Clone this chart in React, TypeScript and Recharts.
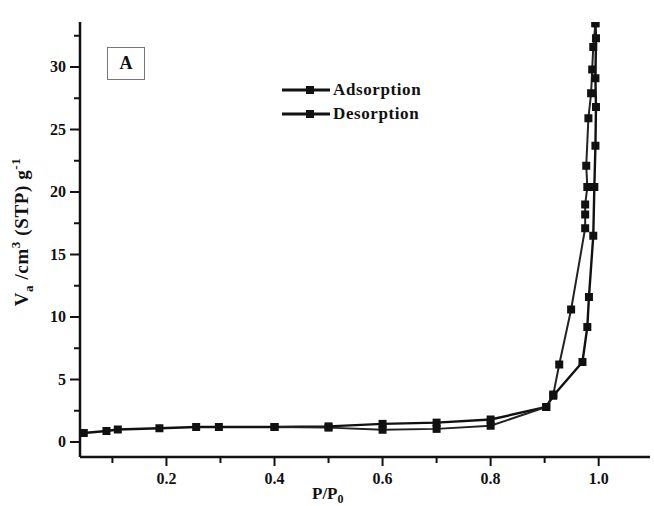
import React from "react";
import { LineChart, Line, XAxis, YAxis } from "recharts";

const adsX = [0.047, 0.089, 0.11, 0.187, 0.255, 0.297, 0.4, 0.5, 0.6, 0.7, 0.8, 0.903, 0.916, 0.97, 0.979, 0.982, 0.99, 0.992, 0.994, 0.995, 0.994, 0.995, 0.994];
const adsY = [0.72, 0.88, 1.0, 1.1, 1.2, 1.2, 1.2, 1.25, 1.45, 1.55, 1.8, 2.8, 3.7, 6.4, 9.2, 11.6, 16.5, 20.4, 23.7, 26.8, 29.1, 32.3, 33.5];

const desX = [0.994, 0.99, 0.988, 0.986, 0.981, 0.977, 0.979, 0.975, 0.975, 0.975, 0.949, 0.927, 0.916, 0.903, 0.8, 0.7, 0.6, 0.5, 0.4];
const desY = [33.5, 31.6, 29.8, 27.9, 25.9, 22.1, 20.4, 19.0, 18.2, 17.1, 10.6, 6.2, 3.8, 2.8, 1.3, 1.05, 0.98, 1.15, 1.2];

const xTicks = [0.1, 0.2, 0.3, 0.4, 0.5, 0.6, 0.7, 0.8, 0.9, 1.0];
const xLabels = [0.2, 0.4, 0.6, 0.8, 1.0];
const yTicks = [0, 2.5, 5, 7.5, 10, 12.5, 15, 17.5, 20, 22.5, 25, 27.5, 30, 32.5];
const yLabels = [0, 5, 10, 15, 20, 25, 30];

const adsorption = adsX.map((x, i) => ({ x, y: adsY[i] }));
const desorption = desX.map((x, i) => ({ x, y: desY[i] }));

const FONT = '"Liberation Serif", "Times New Roman", serif';

const SquareDot = (props: any) => {
  const { cx, cy } = props;
  if (cx == null || cy == null) return null;
  return <rect x={cx - 4} y={cy - 4} width={8} height={8} fill="#111" />;
};

const YTick = (props: any) => {
  const { x, y, payload } = props;
  const major = yLabels.includes(payload.value);
  return (
    <g>
      <line x1={x - (major ? 10 : 6)} x2={x} y1={y} y2={y} stroke="#111" strokeWidth={2} />
      {major && (
        <text x={x - 14} y={y + 5} textAnchor="end" fontFamily={FONT} fontWeight="bold" fontSize={16} fill="#111">
          {payload.value}
        </text>
      )}
    </g>
  );
};

const XTick = (props: any) => {
  const { x, y, payload } = props;
  const v = Math.round(payload.value * 10) / 10;
  const major = xLabels.includes(v);
  return (
    <g>
      <line x1={x} x2={x} y1={y} y2={y + (major ? 9 : 6)} stroke="#111" strokeWidth={2} />
      {major && (
        <text x={x} y={y + 27} textAnchor="middle" fontFamily={FONT} fontWeight="bold" fontSize={16} fill="#111">
          {v.toFixed(1)}
        </text>
      )}
    </g>
  );
};

const LegendRow = ({ label, top }: { label: string; top: number }) => (
  <div style={{ position: "absolute", left: 282, top, display: "flex", alignItems: "center" }}>
    <svg width={50} height={10}>
      <line x1={0} x2={48} y1={5} y2={5} stroke="#111" strokeWidth={3} />
      <rect x={24} y={1} width={8} height={8} fill="#111" />
    </svg>
    <span style={{ fontFamily: FONT, fontWeight: "bold", fontSize: 17, letterSpacing: 0.6, color: "#111", marginLeft: 1 }}>
      {label}
    </span>
  </div>
);

export default function App() {
  return (
    <div style={{ position: "absolute", left: 0, top: 0, width: 654, height: 506, background: "#fff" }}>
      <LineChart width={654} height={506} margin={{ top: 22, right: 4, left: 0, bottom: 0 }}>
        <XAxis
          type="number"
          dataKey="x"
          domain={[0.04, 1.095]}
          ticks={xTicks}
          allowDataOverflow
          height={49}
          tickSize={0}
          tickMargin={0}
          tick={<XTick />}
          axisLine={{ stroke: "#111", strokeWidth: 2.5 }}
          tickLine={false}
        />
        <XAxis xAxisId="top" orientation="top" type="number" domain={[0.04, 1.095]} height={0} tick={false} tickLine={false} axisLine={{ stroke: "#111", strokeWidth: 2.5 }} />
        <YAxis
          type="number"
          domain={[-1.2, 33.6]}
          ticks={yTicks}
          allowDataOverflow
          width={80}
          tickSize={0}
          tickMargin={0}
          tick={<YTick />}
          axisLine={{ stroke: "#111", strokeWidth: 2.5 }}
          tickLine={false}
          label={() => {
            const cx = 28;
            const cy = 232;
            return (
              <text
                x={cx}
                y={cy}
                transform={`rotate(-90 ${cx} ${cy})`}
                textAnchor="middle"
                fontFamily={FONT}
                fontWeight="bold"
                fontSize={19}
                letterSpacing={0.6}
                fill="#111"
              >
                <tspan>V</tspan>
                <tspan fontSize={13} dy={5}>a</tspan>
                <tspan dy={-5}> /cm</tspan>
                <tspan fontSize={13} dy={-8}>3</tspan>
                <tspan dy={8}> (STP) g</tspan>
                <tspan fontSize={13} dy={-8}>-1</tspan>
              </text>
            );
          }}
        />
        <YAxis yAxisId="right" orientation="right" type="number" domain={[-1.2, 33.6]} width={0} tick={false} tickLine={false} axisLine={{ stroke: "#111", strokeWidth: 2 }} />
        <Line
          data={adsorption}
          dataKey="y"
          stroke="#111"
          strokeWidth={2.4}
          dot={<SquareDot />}
          isAnimationActive={false}
        />
        <Line
          data={desorption}
          dataKey="y"
          stroke="#222"
          strokeWidth={2}
          dot={<SquareDot />}
          isAnimationActive={false}
        />
      </LineChart>
      <div
        style={{
          position: "absolute",
          left: 312,
          top: 485,
          fontFamily: FONT,
          fontWeight: "bold",
          fontSize: 17,
          color: "#111",
          lineHeight: "17px",
        }}
      >
        P/P<sub style={{ fontSize: 12 }}>0</sub>
      </div>
      <div
        style={{
          position: "absolute",
          left: 107,
          top: 47,
          width: 36,
          height: 31,
          border: "1.5px solid #777",
          display: "flex",
          alignItems: "center",
          justifyContent: "center",
          fontFamily: FONT,
          fontWeight: "bold",
          fontSize: 18,
          color: "#111",
        }}
      >
        A
      </div>
      <LegendRow label="Adsorption" top={80} />
      <LegendRow label="Desorption" top={104} />
    </div>
  );
}
